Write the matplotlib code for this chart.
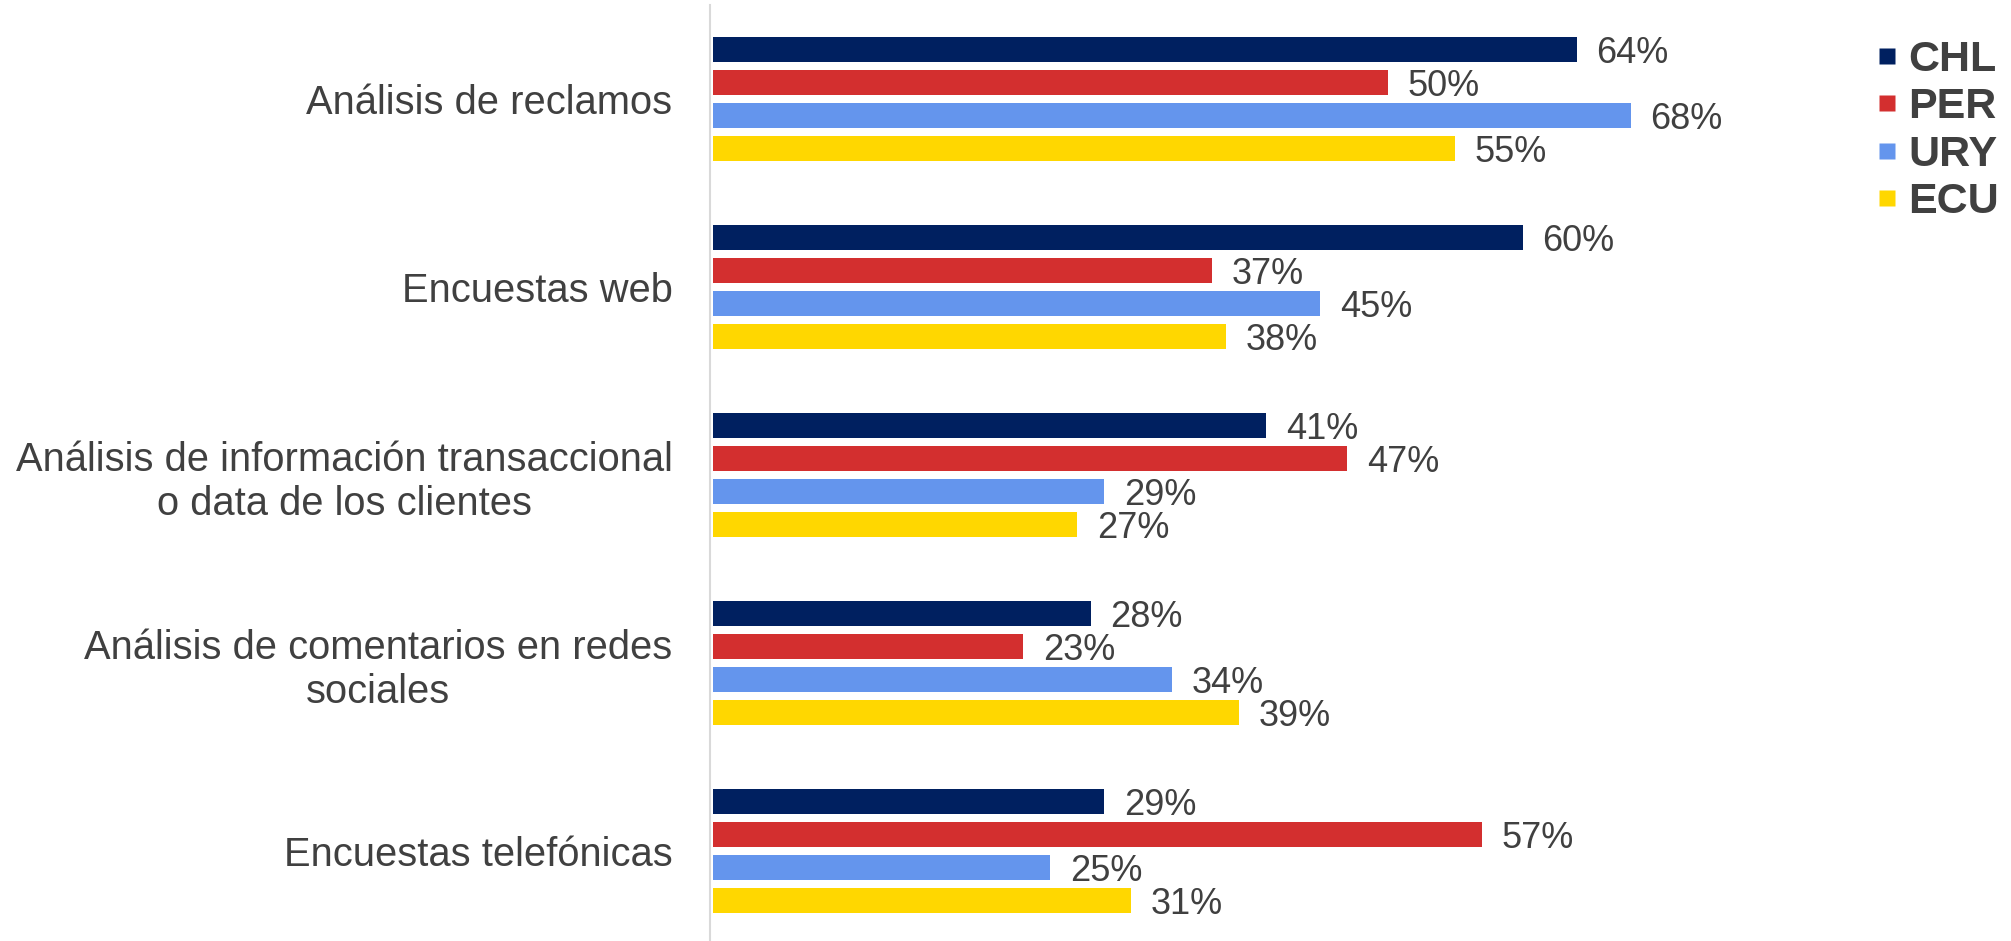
import numpy as np
import matplotlib
matplotlib.use("Agg")
import matplotlib.pyplot as plt
from matplotlib.lines import Line2D

plt.rcParams['font.family'] = ['Liberation Sans', 'DejaVu Sans']

categories = [
    "Análisis de reclamos",
    "Encuestas web",
    "Análisis de información transaccional\no data de los clientes",
    "Análisis de comentarios en redes\nsociales",
    "Encuestas telefónicas",
]
countries = ["CHL", "PER", "URY", "ECU"]
chl = [64, 60, 41, 28, 29]
per = [50, 37, 47, 23, 57]
ury = [68, 45, 29, 34, 25]
ecu = [55, 38, 27, 39, 31]
colors = ["#002060", "#D32F2F", "#6495ED", "#FFD700"]

series = [chl, per, ury, ecu]
text_color = "#404040"

fig = plt.figure(figsize=(20.11, 9.41), dpi=100)
ax = fig.add_axes([710 / 2011, -4 / 941, 1130 / 2011, 940 / 941])

y = np.arange(len(categories))
pitch = 0.1755
height = 0.138
for i, (vals, col) in enumerate(zip(series, colors)):
    pos = y + (i - 1.5) * pitch
    bars = ax.barh(pos, vals, height=height, color=col, edgecolor="none")
    for b, v in zip(bars, vals):
        ax.annotate(f"{v}%", (b.get_width(), b.get_y() + b.get_height() / 2),
                    xytext=(14, -3), textcoords="offset points",
                    va="center", ha="left", fontsize=26, color=text_color)

ax.set_xlim(-0.22, 83.5)
ax.set_ylim(4.5, -0.5)
ax.set_yticks(y)
ax.set_yticklabels(categories, fontsize=28.7, color=text_color)
for lbl in ax.get_yticklabels():
    lbl.set_multialignment("center")
ax.tick_params(axis="y", length=0, pad=27)
ax.set_xticks([])

for s in ["top", "right", "bottom"]:
    ax.spines[s].set_visible(False)
ax.spines["left"].set_color("#D9D9D9")
ax.spines["left"].set_linewidth(1.5)

handles = [Line2D([], [], marker="s", linestyle="none", markersize=11,
                  markerfacecolor=c, markeredgecolor="none") for c in colors]
leg = fig.legend(handles, countries, loc="upper left",
                 bbox_to_anchor=(1874 / 2011, 1 - 40 / 941),
                 frameon=False, handlelength=0.6, handletextpad=0.2,
                 labelspacing=0.17, borderaxespad=0, borderpad=0,
                 prop={"size": 31, "weight": "bold"})
for t in leg.get_texts():
    t.set_color(text_color)

fig.savefig("out.png", dpi=100)
